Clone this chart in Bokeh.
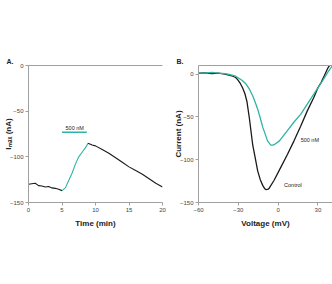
from bokeh.plotting import figure
from bokeh.layouts import row
from bokeh.models import Range1d, Label, LinearAxis, FixedTicker
from bokeh.embed import file_html
from bokeh.resources import INLINE

# Panel A: time course
time_pre = [0, 0.5, 1, 1.5, 2, 2.5, 3, 3.5, 4, 4.5, 5]
imax_pre = [-130, -129.5, -129, -131.5, -132, -133, -132.5, -134, -134.5, -135.5, -137]
time_drug = [5, 5.5, 6, 6.5, 7, 7.5, 8, 8.5, 8.9]
imax_drug = [-137, -134, -126, -118, -108, -100, -95, -90, -85]
time_post = [8.9, 9.5, 10, 11, 12, 13, 14, 15, 16, 17, 18, 19, 20]
imax_post = [-85, -87, -88, -92, -96, -101, -106, -111, -115, -119, -124, -129, -133]
bar_time = [5, 8.7]
bar_level = -73

# Panel B: I-V curves
volt_ctrl = [-60, -55, -50, -45, -40, -38, -35, -32, -30.5, -28.5, -26.8, -25, -23.5, -21.7, -19.2, -17, -15.4, -13.5,
             -11.6, -10, -9.1, -7.5, -6.6, -3, 2, 7, 12, 17, 22, 27, 30, 32.5, 35, 37.5, 40]
curr_ctrl = [1, 1.5, 0.5, 1, 0, -1, -2, -4, -6.5, -11, -16, -23, -32, -51, -82, -100, -113, -123,
             -130, -134, -135, -134.5, -133, -124, -109, -94, -78, -61, -43, -27, -16, -9.6, -1.5, 7, 13]
volt_drug = [-60, -55, -50, -45, -40, -37, -34, -32, -30.5, -27, -24, -21.5, -19, -17, -15.4, -13.5, -11.6, -9.5,
             -8, -6.5, -5.5, -4, -3, 1, 7, 12, 17, 22, 27.5, 32.5, 37.5, 41]
curr_drug = [1.5, 1, 2, 1, 0.5, -0.5, -1.5, -2.5, -4, -7.5, -12, -18, -26, -34, -41, -51, -62, -71,
             -78, -81, -83, -83, -82.5, -78, -66, -56, -47, -35, -22, -10.4, 2.3, 10]

TEAL = "#2fb3a2"
BLACK = "#1a1a1a"
GRAY = "#a0a0a0"
FONT = "Liberation Sans"


def style(p, right_border=False):
    for ax in p.xaxis + p.yaxis:
        ax.axis_line_color = GRAY
        ax.axis_line_width = 1
        ax.major_tick_line_color = GRAY
        ax.major_tick_out = 3
        ax.major_tick_in = 0
        ax.minor_tick_line_color = None
        ax.major_label_text_font = FONT
        ax.major_label_text_font_size = "6px"
        ax.major_label_text_color = "#444444"
        ax.major_label_standoff = 2
        ax.axis_label_text_font = FONT
        ax.axis_label_text_font_size = "8px"
        ax.axis_label_text_font_style = "bold"
        ax.axis_label_text_color = "#222222"
    p.yaxis.axis_label_standoff = -6
    p.xaxis.axis_label_standoff = 4
    p.grid.visible = False
    p.outline_line_color = None
    top = LinearAxis(axis_line_color=GRAY, ticker=FixedTicker(ticks=[]),
                     major_tick_line_color=None, minor_tick_line_color=None)
    p.add_layout(top, "above")
    if right_border:
        rt = LinearAxis(axis_line_color=GRAY, ticker=FixedTicker(ticks=[]),
                        major_tick_line_color=None, minor_tick_line_color=None)
        p.add_layout(rt, "right")
    p.title.text_font = FONT
    p.title.text_font_size = "7px"
    p.title.text_font_style = "bold"
    p.title.text_color = "#222222"
    p.title.offset = -22
    p.title.standoff = 2


def label(p, text, x, y, size="5.5px", align="left"):
    p.add_layout(Label(x=x, y=y, text=text, text_font=FONT, text_font_size=size,
                       text_align=align, text_baseline="middle", text_color="#222222"))


pa = figure(width=170, height=284, output_backend="svg", toolbar_location=None, title="A.",
            x_range=Range1d(0, 20), y_range=Range1d(-150, 0),
            x_axis_label="Time (min)", y_axis_label="Iₘₐₓ (nA)",
            min_border_left=27, min_border_right=8, min_border_top=65, min_border_bottom=82)
pa.xaxis.ticker = FixedTicker(ticks=[0, 5, 10, 15, 20])
pa.yaxis.ticker = FixedTicker(ticks=[0, -50, -100, -150])
style(pa)
pa.line(time_pre, imax_pre, color=BLACK, line_width=1.1)
pa.line(time_drug, imax_drug, color=TEAL, line_width=1.1)
pa.line(time_post, imax_post, color=BLACK, line_width=1.1)
pa.line(bar_time, [bar_level, bar_level], color=TEAL, line_width=1.5)
label(pa, "500 nM", 6.9, bar_level + 5, align="center")

pb = figure(width=162, height=284, output_backend="svg", toolbar_location=None, title="B.",
            x_range=Range1d(-60, 41), y_range=Range1d(-150, 10),
            x_axis_label="Voltage (mV)", y_axis_label="Current (nA)",
            min_border_left=28, min_border_right=0, min_border_top=65, min_border_bottom=82)
pb.xaxis.ticker = FixedTicker(ticks=[-60, -30, 0, 30])
pb.yaxis.ticker = FixedTicker(ticks=[0, -50, -100, -150])
style(pb, right_border=True)
pb.line(volt_ctrl, curr_ctrl, color=BLACK, line_width=1.3)
pb.line(volt_drug, curr_drug, color=TEAL, line_width=1.3)
label(pb, "500 nM", 17, -77)
label(pb, "Control", 4.5, -129)

layout = row(pa, pb, spacing=0)
open("out.html", "w").write(file_html(layout, INLINE))
